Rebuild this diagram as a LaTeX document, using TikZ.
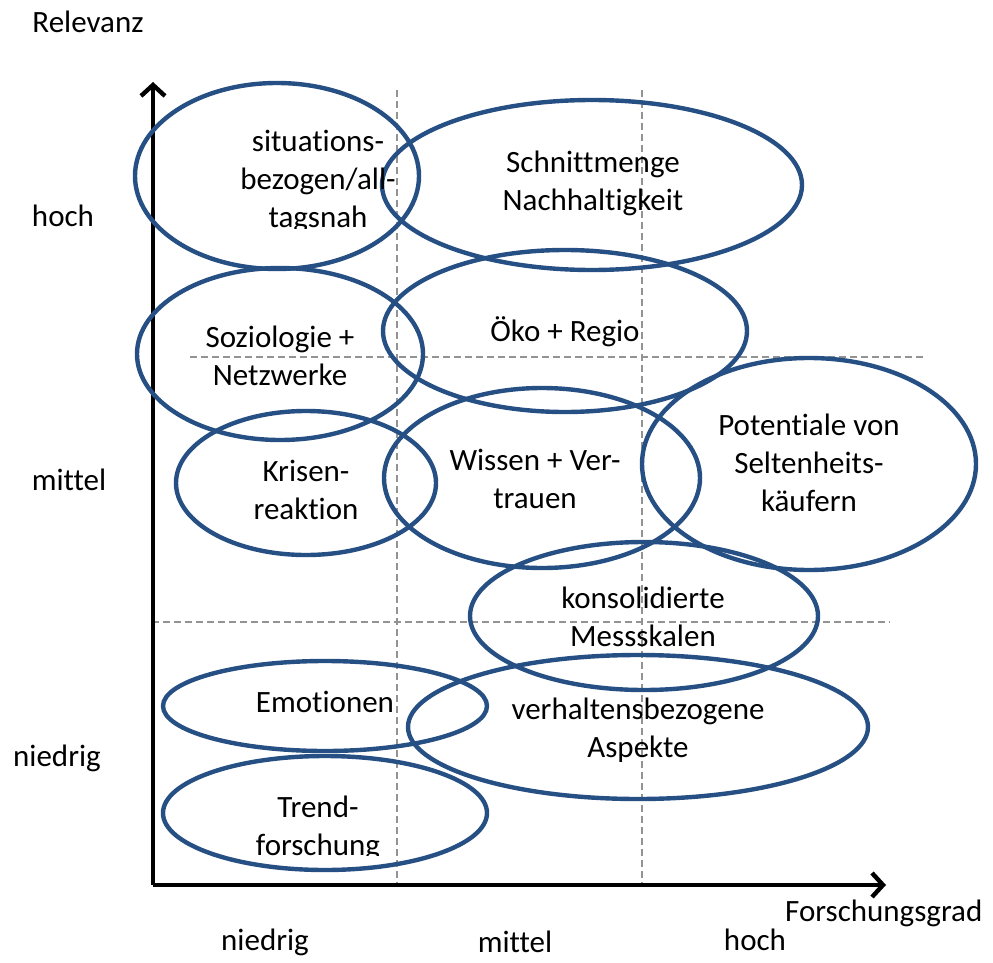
\documentclass[tikz,border=0pt]{standalone}
\usepackage{fontspec}
\setmainfont[Ligatures=NoCommon]{Carlito}
\usetikzlibrary{arrows.meta}
\definecolor{ovalblue}{RGB}{38,79,132}
\tikzset{
  oval/.style={draw=ovalblue,line width=4.4pt},
  grid line/.style={draw=gray!85,line width=1.4pt,dash pattern=on 7pt off 4pt},
  axis/.style={line width=4.4pt,-{Straight Barb[length=11pt,width=24pt,line width=4.4pt]}},
  lbl/.style={align=center,inner sep=0pt},
}
\begin{document}
\begin{tikzpicture}[x=1pt,y=-1pt,font=\fontsize{31}{38}\selectfont]
	\useasboundingbox (0,0) rectangle (993,963);
	\coordinate(O)at(153,885);
	\coordinate(Y)at(153,82);
	\coordinate(X)at(886,885);
	% Raster
	\draw[grid line](397,90)--(397,885);
	\draw[grid line](642,90)--(642,885);
	\draw[grid line](190,357)--(925,357);
	\draw[grid line](152,622)--(890,622);
	% Achsen
	\draw[axis](O)--(Y);
	\draw[axis](O)--(X);
	\node[lbl] (relevanz) at (88,22){Relevanz};
	\node[lbl,anchor=north west] (fgrad) at (785,900){Forschungsgrad};
	\node[lbl] (yhoch) at (63,216){hoch};
	\node[lbl] (ymittel) at (69,480){mittel};
	\node[lbl] (yniedrig) at (57,758){niedrig};
	\node[lbl] (xniedrig) at (265,942){niedrig};
	\node[lbl] (xmittel) at (515,942){mittel};
	\node[lbl] (xhoch) at (755,940){hoch};
	% Ellipsen
	\draw[oval](277,176) ellipse [x radius=142,y radius=93];
	\draw[oval](592,185) ellipse [x radius=210,y radius=85];
	\draw[oval](280,354) ellipse [x radius=143,y radius=86];
	\draw[oval](565,331) ellipse [x radius=182,y radius=81];
	\draw[oval](306,483) ellipse [x radius=130,y radius=72];
	\draw[oval](542,478) ellipse [x radius=158,y radius=90];
	\draw[oval](809,464) ellipse [x radius=167,y radius=106];
	\draw[oval](644,616) ellipse [x radius=174,y radius=74];
	\draw[oval](325,706) ellipse [x radius=162,y radius=45];
	\draw[oval](638,727) ellipse [x radius=230,y radius=72];
	\draw[oval](325,813) ellipse [x radius=162,y radius=57];
	% Beschriftungen
	\begin{scope}
		\clip (200,100) rectangle (450,228);
		\node[lbl] (situativ) at (318,181){situations-\\bezogen/all-\\tagsnah};
	\end{scope}
	\node[lbl] (schnitt) at (593,183){Schnittmenge\\Nachhaltigkeit};
	\node[lbl] (sozio) at (280,356){Soziologie +\\Netzwerke};
	\node[lbl] (oeko) at (565,332){Öko + Regio};
	\node[lbl] (krisen) at (306,490){Krisen-\\reaktion};
	\node[lbl] (wissen) at (535,479){Wissen + Ver-\\trauen};
	\node[lbl] (potential) at (809,463){Potentiale von\\Seltenheits-\\käufern};
	\node[lbl] (konsol) at (643,617){konsolidierte\\Messskalen};
	\node[lbl] (emotion) at (325,702){Emotionen};
	\node[lbl] (verhalten) at (638,730){verhaltensbezogene\\Aspekte};
	\begin{scope}
		\clip (200,770) rectangle (450,855);
		\node[lbl] (trend) at (318,828){Trend-\\forschung};
	\end{scope}
\end{tikzpicture}
\end{document}
